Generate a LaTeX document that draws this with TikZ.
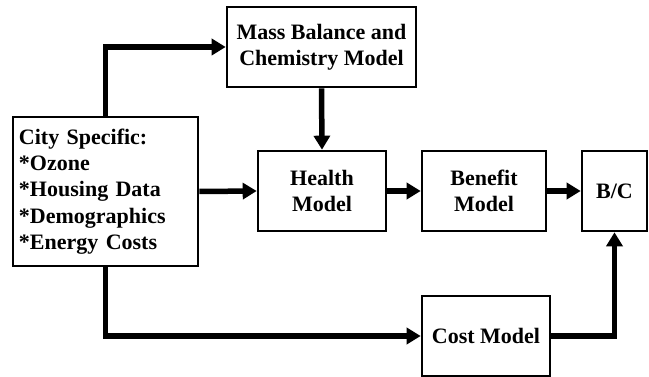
\documentclass[tikz,border=0pt]{standalone}
\usepackage{fontspec}
\setmainfont{Liberation Serif}
\usetikzlibrary{arrows.meta}
\begin{document}
\begin{tikzpicture}[x=1pt,y=-1pt,
  box/.style={draw=black, line width=2.6pt, rectangle, align=center, inner sep=0pt,
    font=\bfseries\fontsize{22}{26.3}\selectfont},
  flow/.style={line width=5.5pt, -{Triangle[length=14pt,width=16pt]}}]
\useasboundingbox (0,0) rectangle (649,377);
\node[box, minimum width=189pt, minimum height=80pt] (mass) at (321.5,47) {Mass Balance and\\Chemistry Model};
\node[box, minimum width=185pt, minimum height=149pt, text width=173pt, align=left] (city) at (105.5,191.5)
  {City Specific:\\{*}Ozone\\{*}Housing Data\\{*}Demographics\\{*}Energy Costs};
\node[box, minimum width=128pt, minimum height=80pt] (health) at (322,191) {Health\\Model};
\node[box, minimum width=124pt, minimum height=80pt] (benefit) at (484,191) {Benefit\\Model};
\node[box, minimum width=65pt, minimum height=80pt] (bc) at (614.5,191) {B/C};
\node[box, minimum width=128pt, minimum height=80pt] (cost) at (486,336) {Cost Model};
\draw[flow] (city.north) |- (mass.west);
\draw[flow] (city.east) -- (health.west);
\draw[flow] (mass.south) -- (health.north);
\draw[flow] (health.east) -- (benefit.west);
\draw[flow] (benefit.east) -- (bc.west);
\draw[flow] (city.south) |- (cost.west);
\draw[flow] (cost.east) -| (bc.south);
\end{tikzpicture}
\end{document}
